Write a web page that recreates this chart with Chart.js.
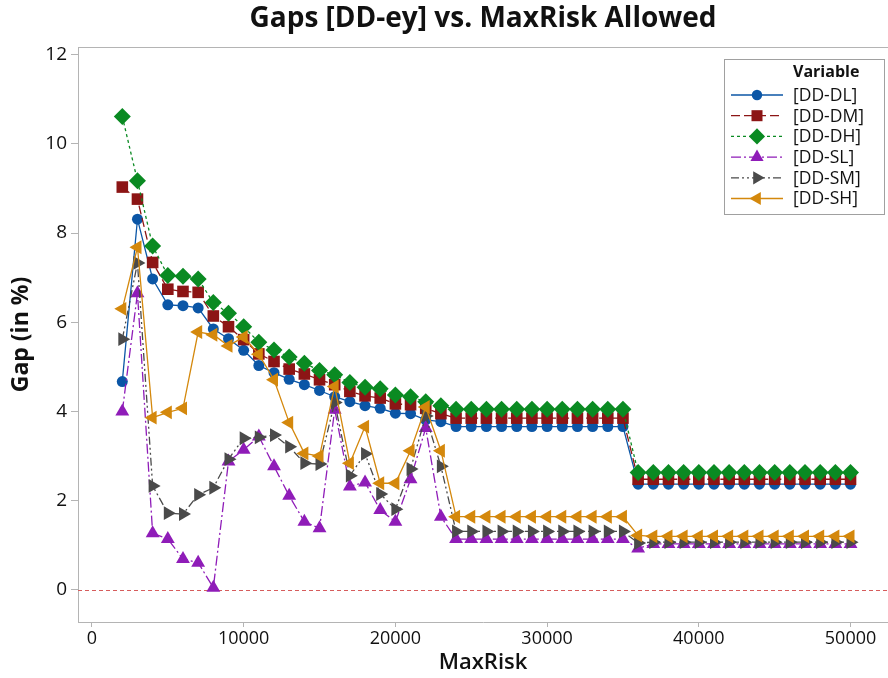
<!DOCTYPE html>
<html>
<head>
<meta charset="utf-8">
<script src="https://cdn.jsdelivr.net/npm/chart.js@4.4.1/dist/chart.umd.min.js"></script>
<style>
  html, body { margin: 0; padding: 0; background: #fff; }
  canvas { display: block; }
</style>
</head>
<body>
<canvas id="grafico" width="888" height="678"></canvas>
<script>
// MaxRisk values (x)
const maxRisk = [2000, 3000, 4000, 5000, 6000, 7000, 8000, 9000, 10000, 11000, 12000, 13000, 14000, 15000,
  16000, 17000, 18000, 19000, 20000, 21000, 22000, 23000, 24000, 25000, 26000, 27000, 28000, 29000, 30000,
  31000, 32000, 33000, 34000, 35000, 36000, 37000, 38000, 39000, 40000, 41000, 42000, 43000, 44000, 45000,
  46000, 47000, 48000, 49000, 50000];

// Gap (in %) por variable
const gapDL = [4.67, 8.31, 6.97, 6.39, 6.37, 6.32, 5.85, 5.63, 5.37, 5.03, 4.87, 4.72, 4.60, 4.47, 4.33, 4.22,
  4.13, 4.07, 3.96, 3.95, 3.81, 3.77, 3.66, 3.66, 3.66, 3.66, 3.66, 3.66, 3.66, 3.66, 3.66, 3.66, 3.66, 3.66,
  2.37, 2.37, 2.37, 2.37, 2.37, 2.37, 2.37, 2.37, 2.37, 2.37, 2.37, 2.37, 2.37, 2.37, 2.37];
const gapDM = [9.03, 8.76, 7.34, 6.74, 6.69, 6.67, 6.14, 5.90, 5.61, 5.29, 5.12, 4.95, 4.84, 4.71, 4.60, 4.45,
  4.35, 4.30, 4.17, 4.15, 4.07, 3.95, 3.85, 3.85, 3.85, 3.85, 3.85, 3.85, 3.85, 3.85, 3.85, 3.85, 3.85, 3.85,
  2.48, 2.48, 2.48, 2.48, 2.48, 2.48, 2.48, 2.48, 2.48, 2.48, 2.48, 2.48, 2.48, 2.48, 2.48];
const gapDH = [10.61, 9.17, 7.71, 7.05, 7.03, 6.97, 6.44, 6.20, 5.90, 5.55, 5.38, 5.22, 5.08, 4.92, 4.82, 4.65,
  4.54, 4.51, 4.37, 4.33, 4.22, 4.13, 4.05, 4.05, 4.05, 4.05, 4.05, 4.05, 4.05, 4.05, 4.05, 4.05, 4.05, 4.05,
  2.63, 2.63, 2.63, 2.63, 2.63, 2.63, 2.63, 2.63, 2.63, 2.63, 2.63, 2.63, 2.63, 2.63, 2.63];
const gapSL = [4.00, 6.65, 1.27, 1.14, 0.69, 0.61, 0.05, 2.88, 3.14, 3.44, 2.77, 2.11, 1.53, 1.38, 4.04, 2.32,
  2.41, 1.79, 1.53, 2.48, 3.63, 1.64, 1.14, 1.14, 1.14, 1.14, 1.14, 1.14, 1.14, 1.14, 1.14, 1.14, 1.14, 1.14,
  0.93, 1.03, 1.03, 1.03, 1.03, 1.03, 1.03, 1.03, 1.03, 1.03, 1.03, 1.03, 1.03, 1.03, 1.03];
const gapSM = [5.62, 7.33, 2.33, 1.72, 1.70, 2.13, 2.29, 2.93, 3.40, 3.42, 3.47, 3.21, 2.84, 2.82, 4.20, 2.56,
  3.05, 2.15, 1.81, 2.71, 3.90, 2.77, 1.31, 1.31, 1.31, 1.31, 1.31, 1.31, 1.31, 1.31, 1.31, 1.31, 1.31, 1.31,
  1.05, 1.07, 1.07, 1.07, 1.07, 1.07, 1.07, 1.07, 1.07, 1.07, 1.07, 1.07, 1.07, 1.07, 1.07];
const gapSH = [6.30, 7.68, 3.86, 3.98, 4.07, 5.78, 5.72, 5.47, 5.67, 5.28, 4.71, 3.75, 3.06, 3.00, 4.56, 2.84,
  3.66, 2.39, 2.39, 3.12, 4.10, 3.12, 1.64, 1.64, 1.64, 1.64, 1.64, 1.64, 1.64, 1.64, 1.64, 1.64, 1.64, 1.64,
  1.22, 1.20, 1.20, 1.20, 1.20, 1.20, 1.20, 1.20, 1.20, 1.20, 1.20, 1.20, 1.20, 1.20, 1.20];

const nombres = ['[DD-DL]', '[DD-DM]', '[DD-DH]', '[DD-SL]', '[DD-SM]', '[DD-SH]'];
const valores = [gapDL, gapDM, gapDH, gapSL, gapSM, gapSH];
const yTicks = [0, 2, 4, 6, 8, 10, 12];
const xTicks = [0, 10000, 20000, 30000, 40000, 50000];

// estilos de cada serie
const estilos = [
  { color: '#0b56a6', dash: [], point: 'circle', radius: 5.5, rot: 0 },
  { color: '#8c1515', dash: [9, 4], point: 'rect', radius: 8.2, rot: 0 },
  { color: '#0a8a22', dash: [3, 3], point: 'rectRot', radius: 8.5, rot: 0 },
  { color: '#8f1cb8', dash: [10, 3, 2, 3], point: 'triangle', radius: 8, rot: 0 },
  { color: '#4a4a4a', dash: [8, 3, 2, 3, 2, 3], point: 'triangle', radius: 8, rot: 90 },
  { color: '#d4880c', dash: [], point: 'triangle', radius: 8, rot: -90 }
];

const fuente = "'Segoe UI', 'Open Sans', 'Noto Sans', sans-serif";

const extras = {
  id: 'extras',
  beforeDatasetsDraw(chart) {
    const { ctx, chartArea, scales } = chart;
    const y0 = scales.y.getPixelForValue(0);
    ctx.save();
    ctx.strokeStyle = '#d65c5c';
    ctx.lineWidth = 1;
    ctx.setLineDash([4, 3]);
    ctx.beginPath();
    ctx.moveTo(chartArea.left, Math.round(y0) + 0.5);
    ctx.lineTo(chartArea.right, Math.round(y0) + 0.5);
    ctx.stroke();
    ctx.setLineDash([]);
    ctx.strokeStyle = '#b4b4b4';
    ctx.beginPath();
    ctx.moveTo(chartArea.left, chartArea.top + 0.5);
    ctx.lineTo(chartArea.right, chartArea.top + 0.5);
    ctx.stroke();
    ctx.restore();
  },
  afterDraw(chart) {
    const { ctx, chartArea } = chart;
    ctx.save();
    // titulo
    ctx.fillStyle = '#111';
    ctx.font = 'bold 28px ' + fuente;
    ctx.textAlign = 'center';
    ctx.textBaseline = 'middle';
    ctx.fillText('Gaps [DD-ey] vs. MaxRisk Allowed', (chartArea.left + chartArea.right) / 2, 19);

    // leyenda
    const bx = 724, by = 59, bw = 160, bh = 155;
    ctx.fillStyle = '#fff';
    ctx.fillRect(bx, by, bw, bh);
    ctx.strokeStyle = '#a0a0a0';
    ctx.lineWidth = 1;
    ctx.strokeRect(bx + 0.5, by + 0.5, bw, bh);
    ctx.fillStyle = '#111';
    ctx.textAlign = 'left';
    ctx.font = 'bold 16px ' + fuente;
    ctx.fillText('Variable', 793, 72);
    ctx.font = '17.5px ' + fuente;
    nombres.forEach((nombre, i) => {
      const est = estilos[i];
      const y = 95 + i * 20.7;
      ctx.strokeStyle = est.color;
      ctx.lineWidth = 1.3;
      ctx.setLineDash(est.dash);
      ctx.beginPath();
      ctx.moveTo(731, y);
      ctx.lineTo(783, y);
      ctx.stroke();
      ctx.setLineDash([]);
      ctx.fillStyle = est.color;
      Chart.helpers.drawPoint(ctx, { pointStyle: est.point, radius: est.radius * 0.95, rotation: est.rot, borderWidth: 0 }, 757, y);
      ctx.fillStyle = '#111';
      ctx.fillText(nombre, 793, y + 1);
    });
    ctx.restore();
  }
};

const ctx = document.getElementById('grafico');
new Chart(ctx, {
  type: 'line',
  data: {
    datasets: nombres.map((nombre, i) => ({
      label: nombre,
      data: maxRisk.map((x, j) => ({ x: x, y: valores[i][j] })),
      borderColor: estilos[i].color,
      backgroundColor: estilos[i].color,
      borderWidth: 1.3,
      borderDash: estilos[i].dash,
      pointStyle: estilos[i].point,
      pointRadius: estilos[i].radius,
      pointRotation: estilos[i].rot,
      pointBorderWidth: 0,
      tension: 0,
      fill: false,
      order: 6 - i
    }))
  },
  options: {
    responsive: false,
    animation: false,
    layout: { autoPadding: false, padding: { top: 47, right: 0, left: 0, bottom: 0 } },
    plugins: { legend: { display: false }, tooltip: { enabled: false } },
    scales: {
      x: {
        type: 'linear',
        min: -920,
        max: 52470,
        afterFit: (scale) => { scale.height = 56; scale.paddingLeft = 0; scale.paddingRight = 0; },
        afterBuildTicks: (axis) => { axis.ticks = xTicks.map(v => ({ value: v })); },
        grid: { drawOnChartArea: false, drawTicks: true, tickLength: 5, color: '#b4b4b4' },
        border: { color: '#b4b4b4', width: 1 },
        ticks: { color: '#111', font: { family: fuente, size: 18 }, padding: 1, maxRotation: 0, callback: (v) => String(v) },
        title: { display: true, text: 'MaxRisk', color: '#111', font: { family: fuente, size: 22, weight: '600' }, padding: { top: 0, bottom: 2 } }
      },
      y: {
        min: -0.72,
        max: 12.17,
        afterFit: (scale) => { scale.width = 78; scale.paddingTop = 0; scale.paddingBottom = 0; },
        afterBuildTicks: (axis) => { axis.ticks = yTicks.map(v => ({ value: v })); },
        grid: { drawOnChartArea: false, drawTicks: true, tickLength: 7, color: '#b4b4b4' },
        border: { color: '#b4b4b4', width: 1 },
        ticks: { color: '#111', font: { family: fuente, size: 19 }, padding: 4 },
        title: { display: true, text: 'Gap (in %)', color: '#111', font: { family: fuente, size: 23, weight: 'bold' }, padding: { top: 8, bottom: 0 } }
      }
    }
  },
  plugins: [extras]
});
</script>
</body>
</html>
